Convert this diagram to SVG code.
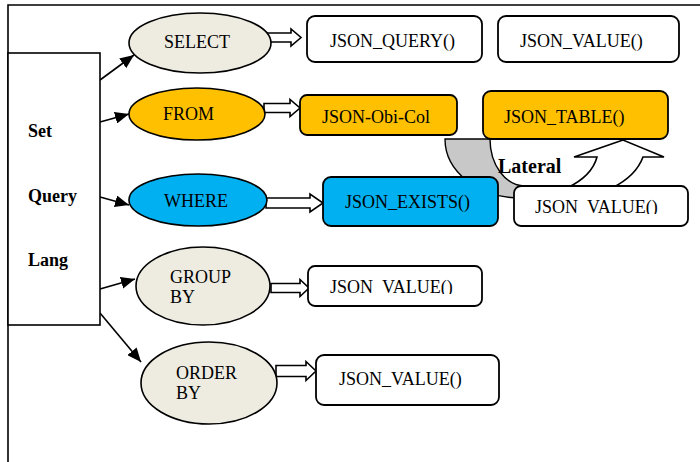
<svg xmlns="http://www.w3.org/2000/svg" width="700" height="462" viewBox="0 0 700 462">
  <style>
    .frame { fill: none; stroke: #000; stroke-width: 1.6; }
    .box { stroke: #000; stroke-width: 1.8; }
    .ell { stroke: #000; stroke-width: 1.6; }
    .t { font-family: "Liberation Serif", "Times New Roman", serif; font-size: 18px; fill: #000; }
    .b { font-weight: bold; }
    .link { fill: none; stroke: #000; stroke-width: 1.6; }
    .blk { fill: #fff; stroke: #000; stroke-width: 1.6; stroke-linejoin: miter; }
    .beige { fill: #EEECE1; }
    .orange { fill: #FFC000; }
    .blue { fill: #00B0F0; }
    .white { fill: #fff; }
  </style>
  <defs>
    <marker id="tri" viewBox="0 0 14 12" refX="14" refY="6" markerWidth="14" markerHeight="12" markerUnits="userSpaceOnUse" orient="auto">
      <path d="M0,0 L14,6 L0,12 Z" fill="#000"/>
    </marker>
    <clipPath id="clipLat"><rect x="520" y="190" width="160" height="24"/></clipPath>
    <clipPath id="clipGrp"><rect x="315" y="270" width="160" height="24"/></clipPath>
  </defs>

  <!-- outer frame -->
  <path class="frame" d="M8,462 V5 H700"/>

  <!-- lateral join: grey curved band and white curved arrow -->
  <g id="lateral">
    <path d="M445,139 H490 A35,47 0 0 0 525,186 L520,198 A75,59 0 0 1 445,139 Z" fill="#C8C8C8" stroke="#000" stroke-width="1.4"/>
    <path d="M623,140 L574,157 L597,157 Q592,176 567,188 L612,188 Q636,176 643,157 L664,157 Z" fill="#fff" stroke="#000" stroke-width="1.6"/>
  </g>

  <!-- connectors -->
  <g id="connectors">
    <line class="link" x1="100" y1="80" x2="134" y2="55" marker-end="url(#tri)"/>
    <line class="link" x1="100" y1="122" x2="129" y2="114" marker-end="url(#tri)"/>
    <line class="link" x1="100" y1="197" x2="129" y2="205" marker-end="url(#tri)"/>
    <line class="link" x1="100" y1="289" x2="135" y2="279" marker-end="url(#tri)"/>
    <line class="link" x1="100" y1="313" x2="141" y2="362" marker-end="url(#tri)"/>
    <path class="blk" d="M266,33 H291 V29 L301,37.5 L291,46 V42 H266 Z"/>
    <path class="blk" d="M264,103.5 H290 V99.5 L300,108 L290,116.5 V112.5 H264 Z"/>
    <path class="blk" d="M266,198 H310 V194 L323,203 L310,212 V208 H266 Z"/>
    <path class="blk" d="M271,283.5 H300 V279.5 L309,288 L300,296.5 V292.5 H271 Z"/>
    <path class="blk" d="M276,365.5 H306 V361.5 L316,371 L306,380.5 V376.5 H276 Z"/>
  </g>

  <!-- source box -->
  <g id="set-query-lang">
    <rect x="8" y="53" width="92" height="272" fill="#fff" stroke="#000" stroke-width="1.6"/>
    <text class="t b" x="28" y="137">Set</text>
    <text class="t b" x="28" y="202">Query</text>
    <text class="t b" x="28" y="266">Lang</text>
  </g>

  <g id="select">
    <ellipse class="ell beige" cx="200" cy="43" rx="71" ry="30"/>
    <text class="t" x="164" y="48">SELECT</text>
  </g>
  <g id="from">
    <ellipse class="ell orange" cx="197" cy="114" rx="68" ry="26"/>
    <text class="t" x="163" y="120">FROM</text>
  </g>
  <g id="where">
    <ellipse class="ell blue" cx="198" cy="200" rx="69" ry="26"/>
    <text class="t" x="164" y="207">WHERE</text>
  </g>
  <g id="group-by">
    <ellipse class="ell beige" cx="203" cy="286" rx="67" ry="39"/>
    <text class="t" x="170" y="283">GROUP</text>
    <text class="t" x="170" y="303">BY</text>
  </g>
  <g id="order-by">
    <ellipse class="ell beige" cx="209" cy="383" rx="68" ry="41"/>
    <text class="t" x="176" y="379">ORDER</text>
    <text class="t" x="176" y="399">BY</text>
  </g>

  <g id="json-query">
    <rect class="box white" x="307" y="16" width="175" height="46" rx="8"/>
    <text class="t" x="330" y="47">JSON_QUERY()</text>
  </g>
  <g id="json-value-select">
    <rect class="box white" x="498" y="16" width="181" height="46" rx="8"/>
    <text class="t" x="520" y="47">JSON_VALUE()</text>
  </g>
  <g id="json-obj-col">
    <rect class="box orange" x="300" y="95" width="157" height="40" rx="7"/>
    <text class="t" x="322" y="123">JSON-Obi-Col</text>
  </g>
  <g id="json-table">
    <rect class="box orange" x="483" y="91" width="185" height="48" rx="8"/>
    <text class="t" x="504" y="123">JSON_TABLE()</text>
  </g>
  <g id="json-exists">
    <rect class="box blue" x="323" y="177" width="175" height="49" rx="8"/>
    <text class="t" x="345" y="208">JSON_EXISTS()</text>
  </g>
  <g id="json-value-lateral">
    <rect class="box white" x="514" y="186" width="174" height="40" rx="7"/>
    <text class="t" x="535" y="213" clip-path="url(#clipLat)">JSON_VALUE()</text>
  </g>
  <g id="lateral-label">
    <text class="t b" x="498" y="173" style="font-size:20px">Lateral</text>
  </g>
  <g id="json-value-group">
    <rect class="box white" x="308" y="266" width="174" height="40" rx="7"/>
    <text class="t" x="330" y="293" clip-path="url(#clipGrp)">JSON_VALUE()</text>
  </g>
  <g id="json-value-order">
    <rect class="box white" x="316" y="355" width="183" height="50" rx="8"/>
    <text class="t" x="339" y="385">JSON_VALUE()</text>
  </g>
</svg>
